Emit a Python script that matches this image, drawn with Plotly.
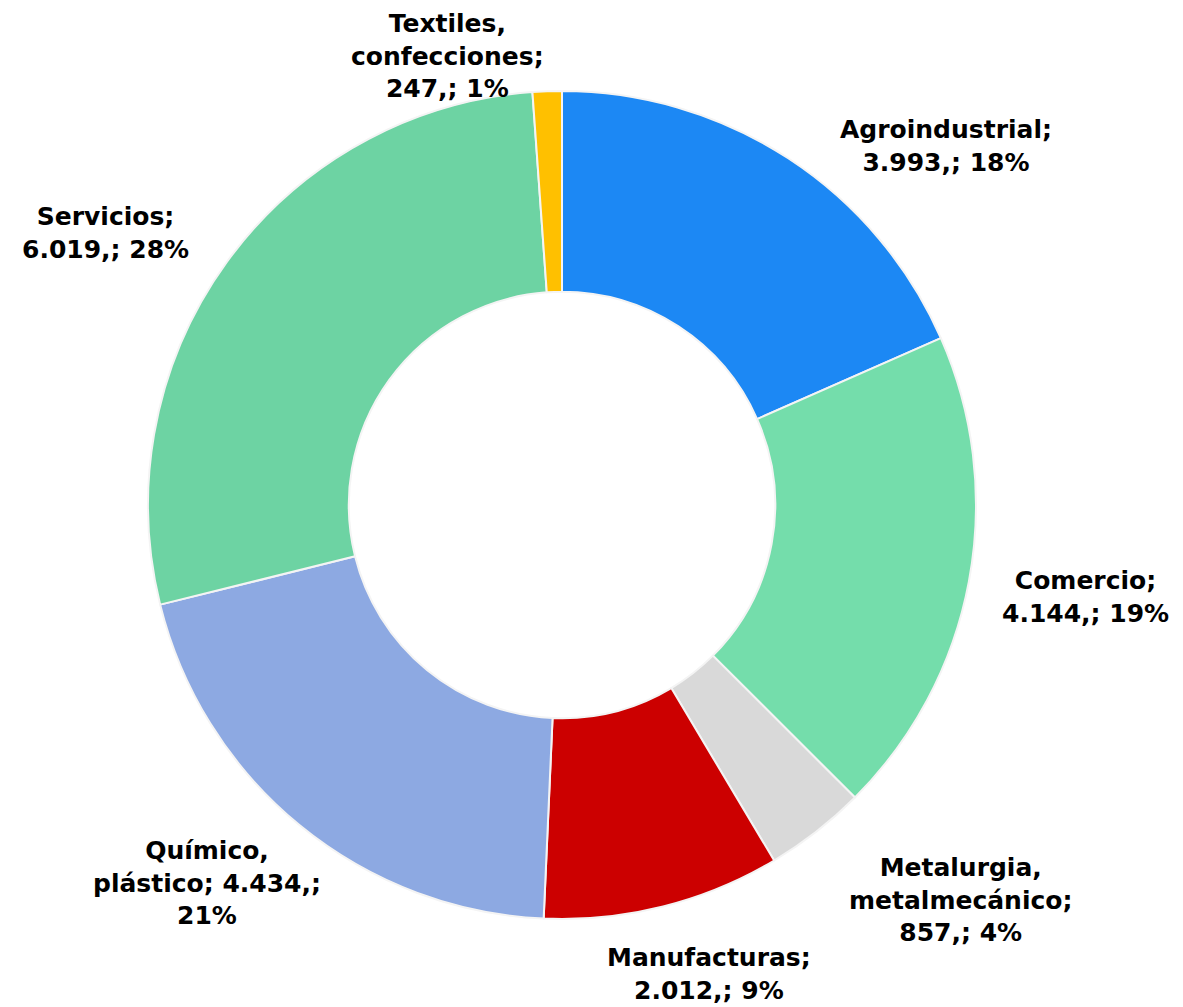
import plotly.graph_objects as go

categories = ["Agroindustrial", "Comercio", "Metalurgia, metalmecánico", "Manufacturas",
              "Químico, plástico", "Servicios", "Textiles, confecciones"]
values = [3993, 4144, 857, 2012, 4434, 6019, 247]
value_labels = ["3.993,", "4.144,", "857,", "2.012,", "4.434,", "6.019,", "247,"]
pct_labels = ["18%", "19%", "4%", "9%", "21%", "28%", "1%"]

colors = ["#1C88F4", "#74DDAB", "#D9D9D9", "#CC0000", "#8DA9E2", "#6DD3A3", "#FFC000"]

# label text layout (line breaks) and pixel positions of label centres (page coords)
label_texts = [
    "Agroindustrial;<br>{v}; {p}",
    "Comercio;<br>{v}; {p}",
    "Metalurgia,<br>metalmecánico;<br>{v}; {p}",
    "Manufacturas;<br>{v}; {p}",
    "Químico,<br>plástico; {v};<br>{p}",
    "Servicios;<br>{v}; {p}",
    "Textiles,<br>confecciones;<br>{v}; {p}",
]
label_px = [(946, 146), (1085, 597), (960, 900), (709, 974), (207, 883), (105, 233), (447, 56)]

W, H = 1183, 1007
OFF = 8  # page body margin
cx, cy, R = 562 - OFF, 505 - OFF, 414

fig = go.Figure(go.Pie(
    labels=categories,
    values=values,
    hole=0.515,
    sort=False,
    direction="clockwise",
    rotation=0,
    marker=dict(colors=colors, line=dict(color="#F4F4F4", width=2)),
    textinfo="none",
    hoverinfo="label+value+percent",
    showlegend=False,
    domain=dict(x=[(cx - R) / W, (cx + R) / W],
                y=[(H - cy - R) / H, (H - cy + R) / H]),
))

annotations = []
for tmpl, v, p, (px, py) in zip(label_texts, value_labels, pct_labels, label_px):
    annotations.append(dict(
        text="<b>" + tmpl.format(v=v, p=p) + "</b>",
        x=(px - OFF) / W, y=1 - (py - OFF) / H, xref="paper", yref="paper",
        xanchor="center", yanchor="middle", showarrow=False, align="center",
        borderpad=0,
        font=dict(family="DejaVu Sans", size=25, color="#000000"),
    ))

fig.update_layout(
    width=W, height=H,
    margin=dict(l=0, r=0, t=0, b=0),
    paper_bgcolor="white", plot_bgcolor="white",
    annotations=annotations,
)

fig.write_html("out.html")
